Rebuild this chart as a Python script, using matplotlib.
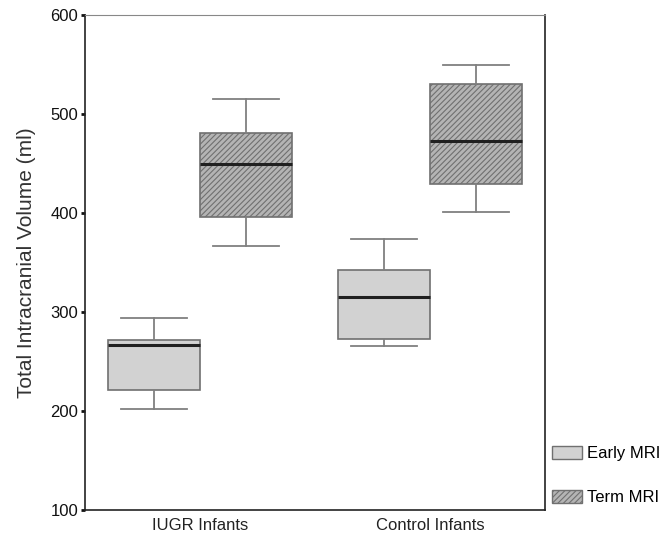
import matplotlib.pyplot as plt
from matplotlib.patches import Patch
import matplotlib as mpl

mpl.rcParams['font.family'] = ['Liberation Sans', 'DejaVu Sans']
mpl.rcParams['hatch.linewidth'] = 0.8
mpl.rcParams['hatch.color'] = '#6e6e6e'

#values (ml)
groups = ['IUGR Infants', 'Control Infants']
series = ['Early MRI', 'Term MRI']
whis_low = [[202, 367], [266, 401]]
q1 = [[221, 396], [273, 429]]
median = [[267, 450], [315, 473]]
q3 = [[272, 481], [342, 530]]
whis_high = [[294, 515], [374, 550]]

face = ['#d2d2d2', '#b4b4b4']
hatch = ['', '//////']

fig = plt.figure(figsize=(6.67, 5.36), dpi=100)
ax = fig.add_axes([0.1274, 0.0485, 0.6897, 0.9235])

centers = [0.5, 1.5]
for g in range(len(groups)):
    for s in range(len(series)):
        stats = [{'whislo': whis_low[g][s], 'q1': q1[g][s], 'med': median[g][s],
                  'q3': q3[g][s], 'whishi': whis_high[g][s], 'fliers': []}]
        pos = centers[g] + (s - 0.5) * 0.4
        bp = ax.bxp(stats, positions=[pos], widths=0.4, patch_artist=True,
                    showfliers=False, manage_ticks=False,
                    boxprops=dict(facecolor=face[s], edgecolor='#707070', linewidth=1.2, hatch=hatch[s]),
                    medianprops=dict(color='#202020', linewidth=2.2),
                    whiskerprops=dict(color='#808080', linewidth=1.3),
                    capprops=dict(color='#808080', linewidth=1.3),
                    capwidths=0.29)

ax.set_xlim(0, 2)
ax.set_ylim(100, 600)
ax.set_yticks([100, 200, 300, 400, 500, 600])
ax.set_xticks(centers)
ax.set_xticklabels(groups, fontsize=12, color='#222222')
ax.tick_params(axis='x', length=0, pad=6)
ax.tick_params(axis='y', length=3, width=2, labelsize=12, colors='#111111', pad=2)
for side in ['left', 'bottom', 'right']:
    ax.spines[side].set_color('#222222')
    ax.spines[side].set_linewidth(1.2)
ax.spines['top'].set_color('#888888')
ax.set_ylabel('Total Intracranial Volume (ml)', fontsize=15, color='#333333', labelpad=10)

handles = [Patch(facecolor=face[i], edgecolor='#707070', hatch=hatch[i]) for i in range(2)]
fig.legend(handles, series, loc='lower left', bbox_to_anchor=(552 / 667, (536 - 505) / 536),
           frameon=False, fontsize=12, handlelength=1.8, handleheight=0.85,
           labelspacing=1.7, handletextpad=0.3, borderpad=0, borderaxespad=0)

plt.savefig('out.png', dpi=100)
